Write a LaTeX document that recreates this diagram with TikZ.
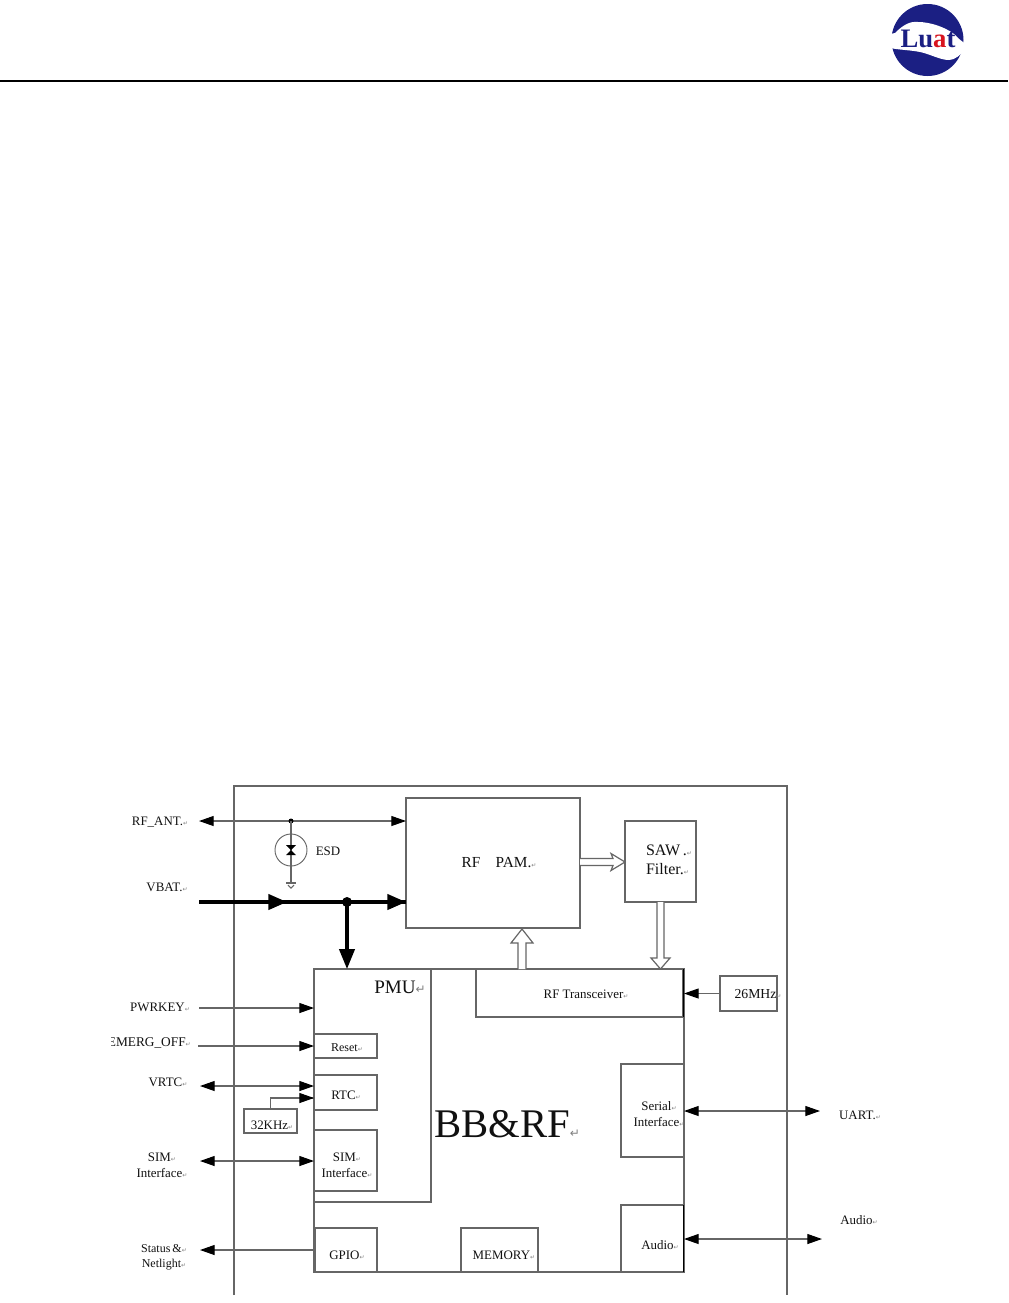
\documentclass[tikz,border=0pt]{standalone}
\usepackage{fontspec}
\setmainfont{Liberation Serif}
\newfontfamily\dejavu{DejaVu Sans}
\usetikzlibrary{arrows.meta,calc}
\definecolor{ln}{HTML}{666666}
\definecolor{inkc}{HTML}{111111}
\definecolor{navy}{HTML}{1B1F83}
\definecolor{luatred}{HTML}{D8141E}
\newcommand\pmk{{\dejavu\fontsize{4.5}{5}\selectfont\textcolor{gray}{↵}}}
\newcommand\bigpmk{{\dejavu\fontsize{9}{9}\selectfont\textcolor{gray}{↵}}}
\newcommand\fsz[1]{\fontsize{#1}{#1}\selectfont}
\newcommand\bx[5]{\node[blk, minimum width={(#4-#2)*0.75pt}, minimum height={(#5-#3)*0.75pt}] (#1) at ({(#2+#4)/2},{(#3+#5)/2}) {};}
\tikzset{
  blk/.style={draw=ln, line width=0.8pt, fill=white, inner sep=0pt, outer sep=0pt},
  lbl/.style={text=inkc, inner sep=0pt, align=center, font=\fsz{9.7}\linespread{1}, text depth=0pt},
  conn/.style={draw=ln, line width=0.8pt},
  one/.style={conn, -{Triangle[length=11pt,width=7.5pt,color=black]}},
  two/.style={conn, {Triangle[length=11pt,width=7.5pt,color=black]}-{Triangle[length=11pt,width=7.5pt,color=black]}},
  heavy/.style={draw=black, line width=2.4pt},
  heavytip/.style={heavy, -{Triangle[length=14pt,width=11.5pt,color=black]}},
  hollow/.style={draw=ln, line width=0.9pt, fill=white, line join=miter},
}
\begin{document}
\begin{tikzpicture}[x=0.75pt,y=-0.75pt]
\useasboundingbox (0,0) rectangle (1008,1303);
\fill[white] (0,0) rectangle (1008,1303);
% header
\coordinate (ruleL) at (0,81);
\coordinate (ruleR) at (1008,81);
\draw[black,line width=1.5pt] (ruleL) -- (ruleR);
% logo
\fill[navy] (927.5,40) circle (36);
\fill[white] (890,34) -- (895,33) .. controls (903,25) and (910,21) .. (918,22)
  .. controls (930,22) and (945,27) .. (954,34)
  .. controls (958,38) and (961,41) .. (966,44) -- (966,49)
  .. controls (960,55) and (955,60) .. (949,60)
  .. controls (940,60) and (930,54) .. (920,52)
  .. controls (910,50) and (900,50) .. (890,48) -- cycle;
\node[inner sep=0pt, font=\fsz{20}\bfseries, anchor=base] (logotext) at (928,47)
  {\textcolor{navy}{Lu}\textcolor{luatred}{a}\textcolor{navy}{t}};
% outer frame
\draw[ln,line width=0.9pt] (234,1295) -- (234,786) -- (787,786) -- (787,1295);
% blocks
\bx{bb}{314}{969}{684}{1272}
\bx{pmu}{314}{969}{431}{1202}
\bx{pam}{406}{798}{580}{928}
\bx{saw}{625}{821}{696}{902}
\bx{trx}{476}{969}{683}{1017}
\bx{xtal}{720}{976}{777}{1011}
\bx{reset}{314}{1034}{377}{1058}
\bx{rtc}{314}{1075}{377}{1110}
\bx{sim}{314}{1130}{377}{1191}
\bx{gpio}{315}{1228}{377}{1272}
\bx{mem}{461}{1228}{538}{1272}
\bx{serial}{621}{1064}{684}{1157}
\bx{audio}{621}{1205}{684}{1272}
\bx{khz}{244}{1109}{297}{1133}
% free ends
\coordinate (rfantL) at (199,821);
\coordinate (rfantR) at (pam.west |- rfantL);
\coordinate (esdtop) at (291,821);
\coordinate (esdc) at (291,850);
\coordinate (gnd) at (291,883);
\coordinate (vbatL) at (199,902);
\coordinate (vbatM) at (287,902);
\coordinate (vbatJ) at (347,902);
\coordinate (vbatR) at (pam.west |- vbatL);
\coordinate (pwrL) at (199,1008);
\coordinate (emL) at (198,1046);
\coordinate (vrtcL) at (200,1086);
\coordinate (simL) at (200,1161);
\coordinate (stL) at (200,1250);
\coordinate (uartR) at (820,1111);
\coordinate (audR) at (822,1239);
% RF_ANT + ESD
\draw[two] (rfantL) -- (rfantR);
\fill[black] (esdtop) circle (2.5);
\node[draw=ln, line width=0.7pt, circle, minimum size=24pt, inner sep=0pt] (esd) at (esdc) {};
\draw[conn] (esdtop) -- (gnd);
\fill[black] (286,845) -- (296,845) -- (291,850) -- cycle;
\fill[black] (286,855) -- (296,855) -- (291,850) -- cycle;
\draw[conn] (286,883) -- (296,883);
\draw[conn] (288,885) -- (291,888) -- (294,885);
% VBAT
\draw[heavy] (vbatL) -- (vbatR);
\draw[heavytip] (vbatL) -- (vbatM);
\draw[heavytip] (vbatJ) -- (vbatR);
\fill[black] (vbatJ) circle (5);
\draw[heavy, -{Triangle[length=15pt,width=11.5pt,color=black]}] (vbatJ) -- (vbatJ |- bb.north);
% left signals
\draw[one] (pwrL) -- (pwrL -| bb.west);
\draw[one] (emL) -- (emL -| bb.west);
\draw[two] (vrtcL) -- (vrtcL -| rtc.west);
\draw[conn] (khz.north) |- (314,1098);
\draw[one] (271,1098) -- (314,1098);
\draw[two] (simL) -- (simL -| sim.west);
\draw[one] (stL -| bb.west) -- (stL);
% right signals
\draw[two] (uartR -| serial.east) -- (uartR);
\draw[two] (audR -| audio.east) -- (audR);
\draw[one] (xtal.west) -- (xtal.west -| bb.east);
\draw[black,line width=1.2pt] (683.5,969) -- (683.5,1017);
\draw[black,line width=1.2pt] (683.5,1205) -- (683.5,1272);
% hollow arrows
\coordinate (a1) at (pam.east |- 0,862);
\draw[hollow] (a1) ++(0,-3.5) -- ++(33,0) -- ++(-2,-5) -- ++(14,8.5) -- ++(-14,8.5) -- ++(2,-5) -- ++(-33,0);
\coordinate (a2) at (522,969);
\draw[hollow] (a2) ++(-4,0) -- ++(0,-26) -- ++(-7,0) -- ++(11,-14) -- ++(11,14) -- ++(-7,0) -- ++(0,26);
\coordinate (a3) at (saw.south);
\draw[hollow] (a3) ++(-3.5,0) -- ++(0,56) -- ++(-6,0) -- ++(9.5,11) -- ++(9.5,-11) -- ++(-6,0) -- ++(0,-56);
% labels
\node[lbl] (lrfant) at (160,821) {RF\_ANT.\pmk};
\node[lbl] (lvbat) at (167,887) {VBAT.\pmk};
\node[lbl] (lesd) at (328,851) {ESD};
\node[lbl,font=\fsz{14.3}] (lpmu) at (400,987) {PMU\bigpmk};
\node[lbl] (lpwr) at (160,1007) {PWRKEY\pmk};
\begin{scope}
\clip (111,1030) rectangle (200,1058);
\node[lbl,anchor=east,font=\fsz{10}] (lem) at (191,1042) {EMERG\_OFF\pmk};
\end{scope}
\node[lbl] (lvrtc) at (168,1082) {VRTC\pmk};
\node[lbl] (lsimo) at (162,1165) {SIM\pmk\\[2pt]Interface\pmk};
\node[lbl,font=\fsz{9}] (lst) at (164,1256) {Status\,\&\pmk\\[2pt]Netlight\pmk};
\node[lbl,font=\fsz{9}] (lreset) at (347,1048) {Reset\pmk};
\node[lbl] (lrtc) at (346,1095) {RTC\pmk};
\node[lbl] (lkhz) at (272,1125) {32KHz\pmk};
\node[lbl] (lsim) at (347,1165) {SIM\pmk\\[2pt]Interface\pmk};
\node[lbl] (lgpio) at (347,1255) {GPIO\pmk};
\node[lbl] (lmem) at (504,1255) {MEMORY\pmk};
\node[lbl,font=\fsz{11.5}] (lpam) at (499,862) {RF\hspace{1em}PAM.\pmk};
\node[lbl,font=\fsz{12},align=left] (lsaw) at (669,860) {SAW\,.\pmk\\[2.5pt]Filter.\pmk};
\node[lbl] (ltrx) at (586,994) {RF Transceiver\pmk};
\node[lbl,font=\fsz{10.3}] (lxtal) at (758,994) {26MHz\pmk};
\node[lbl,font=\fsz{30.5}] (lbb) at (507,1124) {BB\&RF\bigpmk};
\node[lbl] (lser) at (659,1114) {Serial\pmk\\[2pt]Interface\pmk};
\node[lbl] (laud) at (660,1245) {Audio\pmk};
\node[lbl] (luart) at (860,1115) {UART.\pmk};
\node[lbl] (laudo) at (859,1220) {Audio\pmk};
\end{tikzpicture}
\end{document}
